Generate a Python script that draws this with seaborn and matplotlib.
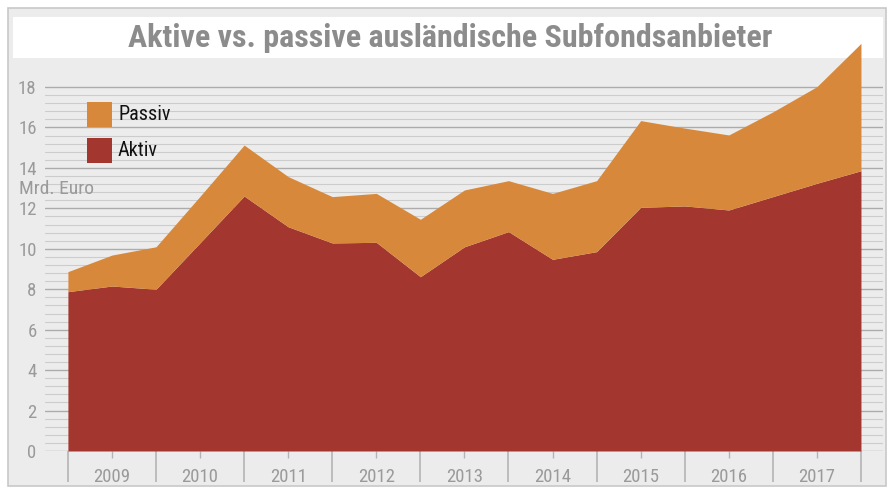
import numpy as np
import seaborn as sns
import matplotlib.pyplot as plt
from matplotlib import font_manager as fm
from matplotlib.patches import Rectangle

# Halbjahreswerte, Mrd. Euro (Ende 2008 bis Ende 2017)
jahre = ["2009", "2010", "2011", "2012", "2013", "2014", "2015", "2016", "2017"]
aktiv = [7.88, 8.16, 8.00, 10.30, 12.61, 11.09, 10.29, 10.32, 8.62, 10.10,
         10.85, 9.48, 9.86, 12.05, 12.12, 11.92, 12.58, 13.24, 13.86]
passiv = [0.99, 1.53, 2.10, 2.30, 2.52, 2.48, 2.29, 2.42, 2.84, 2.81,
          2.52, 3.26, 3.51, 4.29, 3.85, 3.71, 4.19, 4.78, 6.30]
y_ticks = [0, 2, 4, 6, 8, 10, 12, 14, 16, 18]

title = "Aktive vs. passive ausländische Subfondsanbieter"
einheit = "Mrd. Euro"
serien = ["Passiv", "Aktiv"]

c_aktiv = "#a3372f"
c_passiv = "#d8883a"
bg = "#ececec"

sns.set_theme(style="white")

# prefer a narrow face, like the original print chart
names = {f.name for f in fm.fontManager.ttflist}
fam, stretch = "DejaVu Sans", "condensed"
for cand in ["Roboto Condensed", "Liberation Sans Narrow", "Open Sans Condensed"]:
    if cand in names:
        fam, stretch = cand, "normal"
        break
plt.rcParams["font.family"] = [fam, "DejaVu Sans"]
plt.rcParams["font.stretch"] = stretch

W, H = 892, 491
fig = plt.figure(figsize=(W / 100, H / 100), dpi=100, facecolor="white")


def fx(px):
    return px / W


def fy(py):
    return 1 - py / H


# frame and title band
fig.add_artist(Rectangle((fx(8), fy(486)), fx(878), 478 / H, transform=fig.transFigure,
                         facecolor=bg, edgecolor="#c8c8c8", lw=1.2, zorder=0))
fig.add_artist(Rectangle((fx(13), fy(58)), fx(870), 41 / H, transform=fig.transFigure,
                         facecolor="white", edgecolor="none", zorder=0.5))

ax = fig.add_axes([fx(45), fy(451), fx(883 - 45), (451 - 40) / H])
ax.patch.set_visible(False)
ax.set_zorder(2)

x = np.arange(len(aktiv))
ax.stackplot(x, aktiv, passiv, colors=[c_aktiv, c_passiv], lw=0, zorder=3)

ax.set_xlim(-0.52, 18.5)
ax.set_ylim(0, (451 - 40) / 20.22)

# grid: fine lines every 0.4, darker every 2
for v in np.arange(0, 18.01, 0.4):
    major = abs(v / 2 - round(v / 2)) < 1e-6
    ax.axhline(v, color="#acacac" if major else "#cccccc",
               lw=1.0 if major else 0.8, zorder=1)

for s in ax.spines.values():
    s.set_visible(False)

ax.set_yticks(y_ticks)
ax.set_yticklabels([str(t) for t in y_ticks])
ax.tick_params(axis="y", length=0, pad=6, labelsize=13.5, labelcolor="#9a9a9a")

ax.set_xticks(np.arange(1, 18, 2))
ax.set_xticklabels(jahre)
ax.set_xticks(np.arange(0, 19, 2), minor=True)
ax.tick_params(axis="x", which="major", length=5, width=1, color="#b4b4b4",
               pad=7, labelsize=13.5, labelcolor="#9a9a9a", bottom=True)
ax.tick_params(axis="x", which="minor", length=22, width=1.2, color="#b4b4b4",
               bottom=True)

fig.text(fx(450), fy(38), title, ha="center", va="center", fontsize=23,
         fontweight="bold", color="#8c8c8c", zorder=5)
fig.text(fx(19), fy(189), einheit, ha="left", va="center", fontsize=14,
         color="#9a9a9a", zorder=5)

# legend
for i, (lab, col) in enumerate(zip(serien, [c_passiv, c_aktiv])):
    top = 102 + i * 36
    fig.add_artist(Rectangle((fx(87), fy(top + 25)), fx(25), 25 / H,
                             transform=fig.transFigure, facecolor=col,
                             edgecolor="none", zorder=5))
    fig.text(fx(118), fy(top + 13), lab, ha="left", va="center", fontsize=14.5,
             color="#111111", zorder=5)

fig.savefig("out.png", dpi=100, facecolor="white")
